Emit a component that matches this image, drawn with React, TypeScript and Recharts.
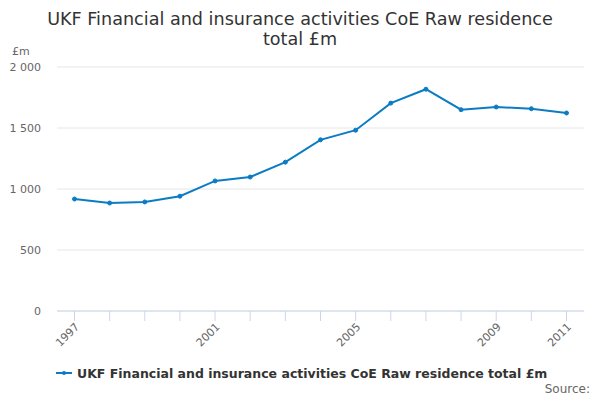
import React from "react";
import { LineChart, Line, XAxis, YAxis, CartesianGrid } from "recharts";

const years = ["1997","1998","1999","2000","2001","2002","2003","2004","2005","2006","2007","2008","2009","2010","2011"];
const values = [918, 885, 894, 941, 1066, 1098, 1220, 1403, 1482, 1704, 1818, 1650, 1672, 1658, 1623];
const yTicks = [0, 500, 1000, 1500, 2000];
const labelledYears = ["1997", "2001", "2005", "2009", "2011"];

const seriesName = "UKF Financial and insurance activities CoE Raw residence total £m";
const data = years.map((y, i) => ({ year: y, value: values[i] }));

const FONT = "'DejaVu Sans', sans-serif";
const COLOR = "#0b7cc4";

const fmt = (v: number) => String(v).replace(/\B(?=(\d{3})+(?!\d))/g, " ");

const XTick = (props: any) => {
  const { x, y, payload } = props;
  if (!labelledYears.includes(payload.value)) return <g />;
  return (
    <text
      x={x + 3}
      y={y}
      textAnchor="end"
      fontSize={11}
      fill="#666"
      fontFamily={FONT}
      transform={`rotate(-45 ${x + 3} ${y})`}
      dominantBaseline="central"
    >
      {payload.value}
    </text>
  );
};

export default function App() {
  return (
    <div style={{ position: "absolute", left: 0, top: 0, width: 600, height: 400, background: "#fff", fontFamily: FONT }}>
      <div style={{ position: "absolute", top: 9, left: 40, width: 520, textAlign: "center", fontSize: 17.6, lineHeight: "20px", color: "#333" }}>
        UKF Financial and insurance activities CoE Raw residence total £m
      </div>
      <div style={{ position: "absolute", top: 45, left: 12, fontSize: 11, color: "#666" }}>£m</div>
      <LineChart width={600} height={400} data={data} margin={{ top: 67, right: 16, left: 0, bottom: 0 }}>
        <CartesianGrid vertical={false} stroke="#e6e6e6" />
        <XAxis
          dataKey="year"
          height={89}
          interval={0}
          padding={{ left: 17.5, right: 17.5 }}
          axisLine={{ stroke: "#ccd6eb" }}
          tickLine={{ stroke: "#ccd6eb" }}
          tickSize={10}
          tickMargin={4}
          tick={<XTick />}
        />
        <YAxis
          width={57}
          domain={[0, 2000]}
          ticks={yTicks}
          tickFormatter={fmt}
          axisLine={false}
          tickLine={false}
          tickSize={0}
          tickMargin={16}
          tick={{ fontSize: 11, fill: "#666", fontFamily: FONT }}
        />
        <Line
          type="linear"
          dataKey="value"
          stroke={COLOR}
          strokeWidth={2}
          dot={{ r: 2, fill: COLOR, stroke: COLOR, strokeWidth: 1 }}
          isAnimationActive={false}
        />
      </LineChart>
      <div style={{ position: "absolute", top: 365, left: 56, display: "flex", alignItems: "center", fontSize: 12.5, fontWeight: "bold", color: "#333" }}>
        <svg width={16} height={16} style={{ marginRight: 5 }}>
          <line x1={0} y1={8} x2={16} y2={8} stroke={COLOR} strokeWidth={2} />
          <circle cx={8} cy={8} r={2} fill={COLOR} />
        </svg>
        <span>{seriesName}</span>
      </div>
      <div style={{ position: "absolute", top: 382, right: 10, fontSize: 12, color: "#666" }}>Source:</div>
    </div>
  );
}
